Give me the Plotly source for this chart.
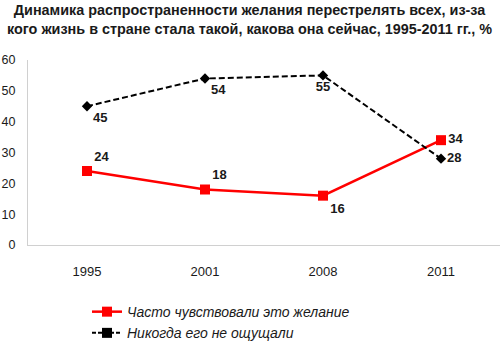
import plotly.graph_objects as go

years = ["1995", "2001", "2008", "2011"]
often = [24, 18, 16, 34]
never = [45, 54, 55, 28]
often_pos = ["top right", "top right", "bottom right", "middle right"]
never_pos = ["bottom right", "bottom right", "bottom center", "middle right"]
y_ticks = [0, 10, 20, 30, 40, 50, 60]
name_often = "Часто чувствовали это желание"
name_never = "Никогда его не ощущали"
title_text = ("Динамика распространенности желания перестрелять всех, из-за<br>"
              "кого жизнь в стране стала такой, какова она сейчас, 1995-2011 гг., %")

label_font = dict(family="Liberation Sans", size=13, color="#1a1a1a", weight="bold")

fig = go.Figure()
fig.add_trace(go.Scatter(
    x=years, y=often, mode="lines+markers+text", name=name_often, showlegend=False,
    line=dict(color="#ff0000", width=2.5),
    marker=dict(symbol="square", size=10, color="#ff0000"),
    text=[str(v) for v in often], textposition=often_pos, textfont=label_font,
))
fig.add_trace(go.Scatter(
    x=years, y=never, mode="lines+markers+text", name=name_never, showlegend=False,
    line=dict(color="#000000", width=2, dash="6px,3px"),
    marker=dict(symbol="diamond", size=8, color="#000000"),
    text=[str(v) for v in never], textposition=never_pos, textfont=label_font,
))
# legend entries
fig.add_trace(go.Scatter(
    x=[None], y=[None], mode="lines+markers", name=name_often,
    line=dict(color="#ff0000", width=2.5),
    marker=dict(symbol="square", size=10, color="#ff0000"),
))
fig.add_trace(go.Scatter(
    x=[None], y=[None], mode="lines+markers", name=name_never,
    line=dict(color="#000000", width=2, dash="4px,2px"),
    marker=dict(symbol="square", size=10, color="#000000"),
))

fig.update_layout(
    width=500, height=342,
    margin=dict(l=28, r=0, t=60, b=97, autoexpand=False),
    paper_bgcolor="white", plot_bgcolor="white",
    annotations=[dict(
        text=title_text, xref="paper", yref="paper", x=0.47, xanchor="center",
        y=1 + 60.5 / 185, yanchor="top", showarrow=False, align="center",
        font=dict(family="Liberation Sans", size=14.4, color="#1a1a1a", weight="bold"),
    )],
    xaxis=dict(
        type="category", range=[-0.5, 3.5], showgrid=False,
        showline=True, linecolor="#d0d0d0", linewidth=1, ticks="",
        ticklabelstandoff=14, tickangle=0,
        tickfont=dict(family="Liberation Sans", size=13, color="#1a1a1a"),
    ),
    yaxis=dict(
        range=[0, 60], tickvals=y_ticks, showgrid=False, zeroline=False,
        showline=True, linecolor="#d0d0d0", linewidth=1, ticks="",
        ticklabelstandoff=9,
        tickfont=dict(family="Liberation Sans", size=12.5, color="#1a1a1a"),
    ),
    legend=dict(
        x=0.125, y=-0.276, xanchor="left", yanchor="top",
        font=dict(family="Liberation Sans", size=14, color="#1a1a1a", style="italic"),
        tracegroupgap=0, bgcolor="rgba(0,0,0,0)",
    ),
    showlegend=True,
)

fig.write_html("out.html")
